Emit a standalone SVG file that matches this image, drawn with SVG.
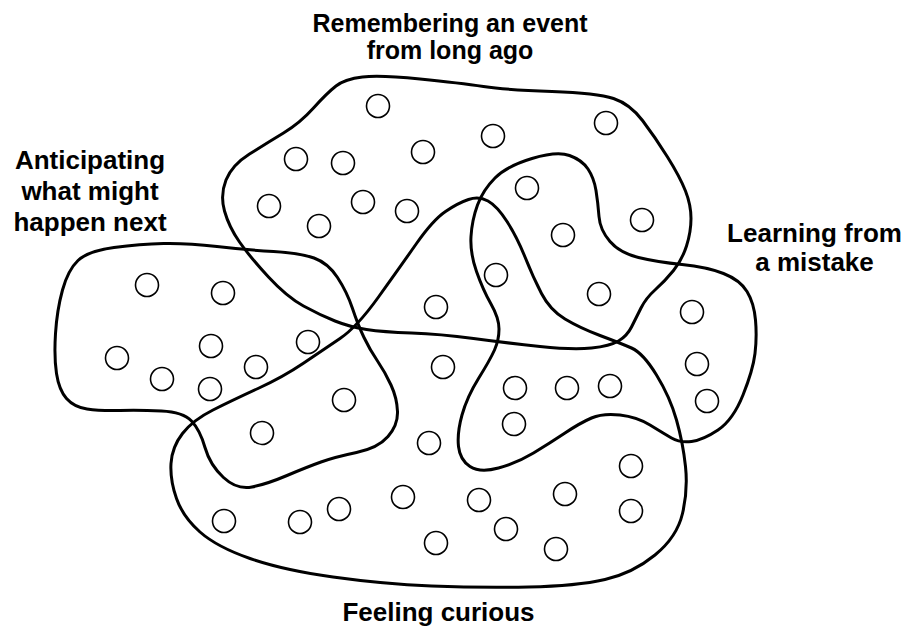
<svg xmlns="http://www.w3.org/2000/svg" width="906" height="632" viewBox="0 0 906 632">
<style>
.blob{fill:none;stroke:#000;stroke-width:3;stroke-linejoin:round}
.dot{fill:none;stroke:#000;stroke-width:1.6}
.lbl{font-family:"Liberation Sans",Arial,sans-serif;font-weight:bold;font-size:26px;fill:#000;text-anchor:middle}
</style>
<rect width="906" height="632" fill="#fff"/>
<g id="remembering">
<path class="blob" d="M362.5,77 Q380,75 420,79 Q460,83 483.5,86.5 Q507,90 552,91.5 Q597,93 613.5,98.5 Q630,104 642.5,120.5 Q655,137 667.5,157 Q680,177 685.5,191 Q691,205 691,218.5 Q691,232 686.5,246 Q682,260 673.5,270.5 Q665,281 655.5,289.5 Q646,298 641,308 Q636,318 631.5,327 Q627,336 618.5,341 Q610,346 591.5,348 Q573,350 540,346.5 Q507,343 473.5,338.5 Q440,334 411.5,333 Q383,332 366.5,329.5 Q350,327 335,321 Q320,315 303.5,306 Q287,297 268.5,277 Q250,257 239.5,242 Q229,227 224.5,211 Q220,195 226,180 Q232,165 249.5,154 Q267,143 283.5,133 Q300,123 313.5,108 Q327,93 336,86 Q345,79 362.5,77 Z"/>
<text class="lbl" x="450" y="31.5" style="font-size:25px">Remembering an event</text>
<text class="lbl" x="450" y="59" style="font-size:25px">from long ago</text>
</g>
<g id="anticipating">
<path class="blob" d="M78,260.5 Q88,251 114,247.5 Q140,244 163.5,243.5 Q187,243 217,246.5 Q247,250 273.5,251.5 Q300,253 314,258 Q328,263 337.5,277.5 Q347,292 352.5,308.5 Q358,325 364,337.5 Q370,350 377.5,361 Q385,372 391,385 Q397,398 397.5,411.5 Q398,425 388,436.5 Q378,448 356.5,452.5 Q335,457 321,462 Q307,467 287,475.5 Q267,484 252,487 Q237,490 223.5,477.5 Q210,465 205,447.5 Q200,430 191.5,421 Q183,412 161.5,411 Q140,410 120,410.5 Q100,411 87,409 Q74,407 66.5,398.5 Q59,390 56.5,373.5 Q54,357 55.5,333.5 Q57,310 62.5,290 Q68,270 78,260.5 Z"/>
<text class="lbl" x="90" y="169">Anticipating</text>
<text class="lbl" x="90" y="200">what might</text>
<text class="lbl" x="90" y="231">happen next</text>
</g>
<g id="feeling-curious">
<path class="blob" d="M468.5,199.5 Q479,196 488,201 Q497,206 507,221.5 Q517,237 525,257 Q533,277 541.5,293.5 Q550,310 565,319 Q580,328 600,335.5 Q620,343 631.5,348 Q643,353 656.5,375 Q670,397 676.5,420 Q683,443 685.5,466.5 Q688,490 682.5,513.5 Q677,537 655,555 Q633,573 605,579.5 Q577,586 528.5,587 Q480,588 431.5,586 Q383,584 333,577 Q283,570 250,558.5 Q217,547 200,532 Q183,517 176.5,498.5 Q170,480 171,463.5 Q172,447 182.5,433.5 Q193,420 213,410 Q233,400 258,388.5 Q283,377 303,363.5 Q323,350 340,338.5 Q357,327 378.5,297 Q400,267 416.5,243.5 Q433,220 445.5,211.5 Q458,203 468.5,199.5 Z"/>
<text class="lbl" x="438.5" y="621">Feeling curious</text>
</g>
<g id="learning">
<path class="blob" d="M532,158.5 Q557,151 569.5,155.5 Q582,160 588,169 Q594,178 596,190.5 Q598,203 599,216.5 Q600,230 610,241.5 Q620,253 638.5,257.5 Q657,262 682,264.5 Q707,267 723.5,273.5 Q740,280 747,291.5 Q754,303 755.5,320 Q757,337 755,353.5 Q753,370 743,395 Q733,420 718,430 Q703,440 691.5,441.5 Q680,443 671.5,438 Q663,433 650,425 Q637,417 620,415 Q603,413 591.5,418 Q580,423 565,433 Q550,443 533.5,453 Q517,463 498.5,468 Q480,473 470,466.5 Q460,460 458.5,446.5 Q457,433 462,415 Q467,397 478.5,378.5 Q490,360 494.5,350 Q499,340 499,329 Q499,318 491,304 Q483,290 476.5,271.5 Q470,253 471,236.5 Q472,220 477.5,205 Q483,190 495,178 Q507,166 532,158.5 Z"/>
<text class="lbl" x="814.5" y="242">Learning from</text>
<text class="lbl" x="814.5" y="271">a mistake</text>
</g>
<g id="dots">
<circle class="dot" cx="378" cy="106" r="11.5"/>
<circle class="dot" cx="296" cy="159" r="11.5"/>
<circle class="dot" cx="343" cy="163" r="11.5"/>
<circle class="dot" cx="423" cy="152" r="11.5"/>
<circle class="dot" cx="493" cy="136" r="11.5"/>
<circle class="dot" cx="606" cy="123" r="11.5"/>
<circle class="dot" cx="269" cy="206" r="11.5"/>
<circle class="dot" cx="319" cy="226" r="11.5"/>
<circle class="dot" cx="363" cy="202" r="11.5"/>
<circle class="dot" cx="407" cy="211" r="11.5"/>
<circle class="dot" cx="527" cy="188" r="11.5"/>
<circle class="dot" cx="563" cy="235" r="11.5"/>
<circle class="dot" cx="642" cy="220" r="11.5"/>
<circle class="dot" cx="496" cy="275" r="11.5"/>
<circle class="dot" cx="599" cy="294" r="11.5"/>
<circle class="dot" cx="692" cy="312" r="11.5"/>
<circle class="dot" cx="697" cy="364" r="11.5"/>
<circle class="dot" cx="707" cy="401" r="11.5"/>
<circle class="dot" cx="147" cy="285" r="11.5"/>
<circle class="dot" cx="223" cy="293" r="11.5"/>
<circle class="dot" cx="117" cy="358" r="11.5"/>
<circle class="dot" cx="211" cy="346" r="11.5"/>
<circle class="dot" cx="162" cy="379" r="11.5"/>
<circle class="dot" cx="210" cy="389" r="11.5"/>
<circle class="dot" cx="256" cy="367" r="11.5"/>
<circle class="dot" cx="308" cy="342" r="11.5"/>
<circle class="dot" cx="344" cy="400" r="11.5"/>
<circle class="dot" cx="262" cy="433" r="11.5"/>
<circle class="dot" cx="436" cy="307" r="11.5"/>
<circle class="dot" cx="443" cy="367" r="11.5"/>
<circle class="dot" cx="429" cy="443" r="11.5"/>
<circle class="dot" cx="515" cy="388" r="11.5"/>
<circle class="dot" cx="567" cy="388" r="11.5"/>
<circle class="dot" cx="610" cy="386" r="11.5"/>
<circle class="dot" cx="514" cy="424" r="11.5"/>
<circle class="dot" cx="224" cy="521" r="11.5"/>
<circle class="dot" cx="300" cy="522" r="11.5"/>
<circle class="dot" cx="339" cy="509" r="11.5"/>
<circle class="dot" cx="403" cy="497" r="11.5"/>
<circle class="dot" cx="436" cy="543" r="11.5"/>
<circle class="dot" cx="479" cy="500" r="11.5"/>
<circle class="dot" cx="506" cy="529" r="11.5"/>
<circle class="dot" cx="556" cy="549" r="11.5"/>
<circle class="dot" cx="565" cy="494" r="11.5"/>
<circle class="dot" cx="631" cy="466" r="11.5"/>
<circle class="dot" cx="631" cy="511" r="11.5"/>
</g>
</svg>
